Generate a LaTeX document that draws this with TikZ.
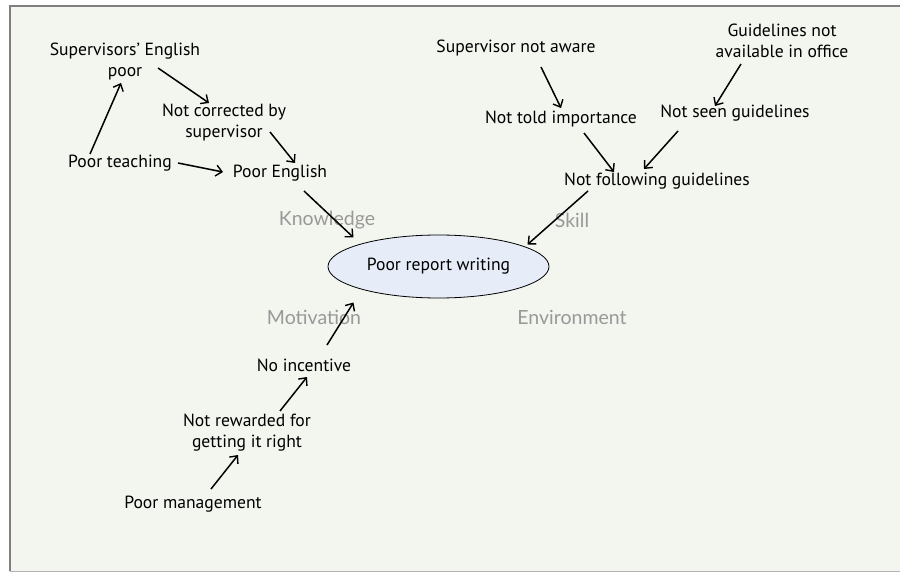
\documentclass[tikz,border=0pt]{standalone}
\usepackage{fontspec}
\setmainfont{PT Sans}
\newfontfamily\labelfont{Lato}
\usetikzlibrary{arrows.meta,shapes.geometric}
\definecolor{panel}{HTML}{F3F5EF}
\definecolor{frameline}{HTML}{7F7F7F}
\definecolor{frameedge}{HTML}{B4B4B4}
\definecolor{bubble}{HTML}{E6EDF8}
\definecolor{facet}{HTML}{999999}
\tikzset{
  cause/.style={inner sep=0pt, align=center, font=\fontsize{17.6}{21}\selectfont, text=black},
  facetlabel/.style={inner sep=0pt, font=\labelfont\fontsize{19.5}{22}\selectfont, text=facet},
  arr/.style={-{Straight Barb[length=6pt,width=11pt,line width=1.4pt]}, line width=1.5pt, black},
}
\begin{document}
\begin{tikzpicture}[x=1pt,y=-1pt]
  \useasboundingbox (0,0) rectangle (900,572);
  % panel
  \fill[white] (0,0) rectangle (900,572);
  \fill[panel] (10,6) rectangle (900,571);
  \draw[frameedge, line width=1pt] (10,571) -- (900,571);
  \draw[frameline, line width=2pt] (10,571) -- (10,6) -- (900,6);

  % central effect
  \node[ellipse, draw=black, line width=0.8pt, fill=bubble, minimum width=221pt,
        minimum height=63pt, inner sep=0pt, font=\fontsize{17.6}{21}\selectfont]
        (prw) at (438.5,266.5) {Poor report writing};

  % facet labels
  \node[facetlabel] (know) at (327,220) {Knowledge};
  \node[facetlabel] (skill) at (572,220) {Skill};
  \node[facetlabel] (motiv) at (314,317) {Motivation};
  \node[facetlabel] (envir) at (572,317) {Environment};

  % knowledge branch
  \node[cause] (supeng) at (125,61) {Supervisors’ English\\poor};
  \node[cause] (notcorr) at (224,123) {Not corrected by\\supervisor};
  \node[cause] (teach) at (120,163) {Poor teaching};
  \node[cause] (poorenglish) at (280,173) {Poor English};

  % skill branch
  \node[cause] (notaware) at (516,48) {Supervisor not aware};
  \node[cause] (guideoff) at (782,41) {Guidelines not\\available in office};
  \node[cause] (nottold) at (561,119) {Not told importance};
  \node[cause] (notseen) at (735,113) {Not seen guidelines};
  \node[cause] (notfollow) at (657,181) {Not following guidelines};

  % motivation branch
  \node[cause] (noinc) at (304,365) {No incentive};
  \node[cause] (notrew) at (247,433) {Not rewarded for\\getting it right};
  \node[cause] (mgmt) at (193,504) {Poor management};

  % connectors
  \draw[arr] ([shift={(-30,-9)}]teach.center) -- ([shift={(-4,22)}]supeng.center);
  \draw[arr] ([shift={(33,7)}]supeng.center) -- ([shift={(-15,-20)}]notcorr.center);
  \draw[arr] ([shift={(46,9)}]notcorr.center) -- ([shift={(15,-10)}]poorenglish.center);
  \draw[arr] ([shift={(58,0)}]teach.center) -- ([shift={(-57,-1)}]poorenglish.center);
  \draw[arr] ([shift={(24,18)}]poorenglish.center) -- ([shift={(-85,-29)}]prw.center);

  \draw[arr] ([shift={(25,19)}]notaware.center) -- ([shift={(0,-11)}]nottold.center);
  \draw[arr] ([shift={(-41,23)}]guideoff.center) -- ([shift={(-20,-7)}]notseen.center);
  \draw[arr] ([shift={(23,14)}]nottold.center) -- ([shift={(-43,-9)}]notfollow.center);
  \draw[arr] ([shift={(-57,18)}]notseen.center) -- ([shift={(-13,-12)}]notfollow.center);
  \draw[arr] ([shift={(-69,10)}]notfollow.center) -- ([shift={(89,-22)}]prw.center);

  \draw[arr] ([shift={(23,-20)}]noinc.center) -- ([shift={(-85,36)}]prw.center);
  \draw[arr] ([shift={(33,-22)}]notrew.center) -- ([shift={(3,12)}]noinc.center);
  \draw[arr] ([shift={(18,-15)}]mgmt.center) -- ([shift={(-9,22)}]notrew.center);
\end{tikzpicture}
\end{document}
